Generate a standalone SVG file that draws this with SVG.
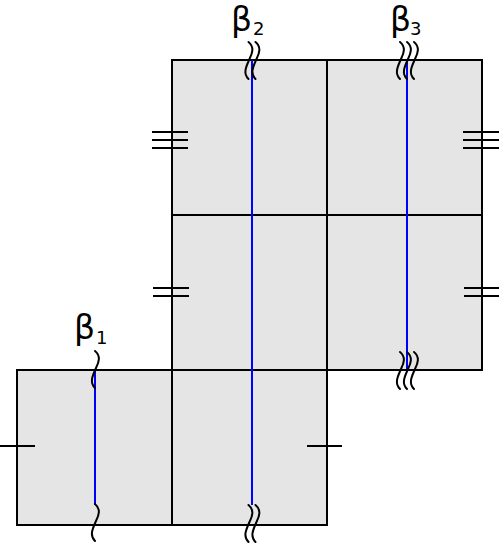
<svg xmlns="http://www.w3.org/2000/svg" width="499" height="543" viewBox="0 0 499 543">
<style>
.sq{fill:#e5e5e5;stroke:#000;stroke-width:2}
.tk{stroke:#000;stroke-width:2;fill:none}
.bl{stroke:#0000ff;stroke-width:2;fill:none}
.sg{stroke:#000;stroke-width:2;fill:none;stroke-linecap:round}
.lb{font-family:"DejaVu Sans",sans-serif;fill:#000;font-size:33px}
.sub{font-size:18px}
</style>
<defs>
<path id="sq" class="sg" d="M0,-19 C6,-14 4,-8 1,-2 C-2,5 -6,12 0,18"/>
</defs>
<g id="squares">
<g id="s1"><rect class="sq" x="17" y="370" width="155" height="155"/></g>
<g id="s2"><rect class="sq" x="172" y="60" width="155" height="155"/></g>
<g id="s3"><rect class="sq" x="327" y="60" width="155" height="155"/></g>
<g id="s4"><rect class="sq" x="172" y="215" width="155" height="155"/></g>
<g id="s5"><rect class="sq" x="327" y="215" width="155" height="155"/></g>
<g id="s6"><rect class="sq" x="172" y="370" width="155" height="155"/></g>
</g>
<g id="connectors">
<path class="tk" d="M0,446H35M307,446H342"/>
<path class="tk" d="M152,132H188M152,140H188M152,148H188M463,132H499M463,140H499M463,148H499"/>
<path class="tk" d="M153,288H189M153,296H189M464,288H499M464,296H499"/>
<path class="bl" d="M95,370V505M252,60V505M407,60V369"/>
<use href="#sq" x="95" y="370"/>
<use href="#sq" x="95" y="523"/>
<use href="#sq" x="248.5" y="61"/>
<use href="#sq" x="255.5" y="61"/>
<use href="#sq" x="248.5" y="524"/>
<use href="#sq" x="255.5" y="524"/>
<use href="#sq" x="400" y="61"/>
<use href="#sq" x="407" y="61"/>
<use href="#sq" x="414" y="61"/>
<use href="#sq" x="400" y="371"/>
<use href="#sq" x="407" y="371"/>
<use href="#sq" x="414" y="371"/>
</g>
<g id="labels">
<text class="lb" x="74" y="339">β<tspan class="sub" x="96" y="344">1</tspan></text>
<text class="lb" x="231" y="31">β<tspan class="sub" x="253" y="35">2</tspan></text>
<text class="lb" x="390" y="31">β<tspan class="sub" x="410" y="35">3</tspan></text>
</g>
</svg>
